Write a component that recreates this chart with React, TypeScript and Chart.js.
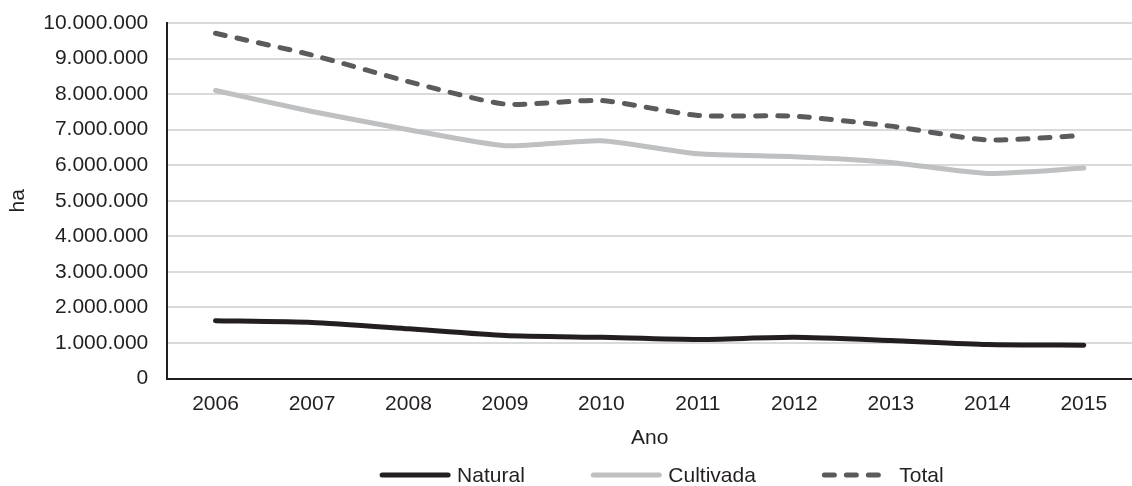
import React, { useEffect, useRef } from "react";
import { Chart, registerables } from "chart.js";

Chart.register(...registerables);

// Área (ha) por ano
const anos = ["2006", "2007", "2008", "2009", "2010", "2011", "2012", "2013", "2014", "2015"];
const natural = [1630000, 1580000, 1400000, 1210000, 1160000, 1100000, 1160000, 1070000, 960000, 940000];
const cultivada = [8100000, 7510000, 7000000, 6550000, 6690000, 6320000, 6240000, 6080000, 5770000, 5920000];
const total = [9710000, 9100000, 8350000, 7720000, 7820000, 7400000, 7380000, 7100000, 6710000, 6840000];

const FONT = '"Liberation Sans", Arial, sans-serif';
const TEXT = "#231f20";

function formatPt(v: number): string {
  return String(Math.round(v)).replace(/\B(?=(\d{3})+(?!\d))/g, ".");
}

// Legend drawn below the x-axis title, centred under the plot area
const bottomLegend = {
  id: "bottomLegend",
  afterDraw(chart: any) {
    const { ctx, chartArea } = chart;
    const lineLen = 66;
    const cap = 2.5;
    const textGap = 9;
    const itemGap = 66;
    const y = 475;
    ctx.save();
    ctx.font = `21px ${FONT}`;
    const items = chart.data.datasets.map((ds: any) => ({
      ds,
      w: ctx.measureText(ds.label).width,
    }));
    let groupW = 0;
    items.forEach((it: any, i: number) => {
      groupW += cap + lineLen + textGap + it.w;
      if (i < items.length - 1) groupW += itemGap;
    });
    const center = (chartArea.left + chartArea.right) / 2 + 12;
    let x = center - groupW / 2;
    items.forEach((it: any) => {
      const ds = it.ds;
      const x0 = x + cap;
      ctx.beginPath();
      ctx.lineWidth = ds.borderWidth;
      ctx.strokeStyle = ds.borderColor;
      ctx.lineCap = "round";
      ctx.setLineDash(ds.borderDash || []);
      ctx.moveTo(x0, y);
      ctx.lineTo(x0 + (ds.borderDash ? lineLen - 8 : lineLen), y);
      ctx.stroke();
      ctx.setLineDash([]);
      ctx.fillStyle = TEXT;
      ctx.textBaseline = "middle";
      ctx.textAlign = "left";
      ctx.fillText(ds.label, x0 + lineLen + textGap, y + 1);
      x = x0 + lineLen + textGap + it.w + itemGap;
    });
    ctx.restore();
  },
};

export default function App() {
  const canvasRef = useRef<HTMLCanvasElement | null>(null);

  useEffect(() => {
    const canvas = canvasRef.current;
    if (!canvas) return;
    const chart = new Chart(canvas, {
      type: "line",
      data: {
        labels: anos,
        datasets: [
          {
            label: "Natural",
            data: natural,
            borderColor: "#231f20",
            backgroundColor: "#231f20",
            borderWidth: 5,
            pointRadius: 0,
            tension: 0.2,
            borderCapStyle: "round",
            borderJoinStyle: "round",
          },
          {
            label: "Cultivada",
            data: cultivada,
            borderColor: "#bfc0c2",
            backgroundColor: "#bfc0c2",
            borderWidth: 5,
            pointRadius: 0,
            tension: 0.2,
            borderCapStyle: "round",
            borderJoinStyle: "round",
          },
          {
            label: "Total",
            data: total,
            borderColor: "#5b5b5d",
            backgroundColor: "#5b5b5d",
            borderWidth: 5,
            borderDash: [10, 12],
            pointRadius: 0,
            tension: 0.2,
            borderCapStyle: "round",
            borderJoinStyle: "round",
          },
        ],
      },
      options: {
        responsive: false,
        animation: false,
        layout: { padding: { top: 23, right: 0, left: 0, bottom: 35 } },
        plugins: {
          legend: { display: false },
          tooltip: { enabled: false },
        },
        scales: {
          x: {
            offset: true,
            grid: { display: false, drawTicks: false },
            border: { display: true, color: "#231f20", width: 2 },
            ticks: { color: TEXT, font: { family: FONT, size: 21 }, padding: 13 },
            title: {
              display: true,
              text: "Ano",
              color: TEXT,
              font: { family: FONT, size: 21 },
              padding: { top: -4, bottom: 0 },
            },
          },
          y: {
            min: 0,
            max: 10000000,
            grid: { color: "#dadadc", lineWidth: 2, drawTicks: false },
            border: { display: true, color: "#231f20", width: 2 },
            ticks: {
              stepSize: 1000000,
              color: TEXT,
              font: { family: FONT, size: 21, lineHeight: 0.35 },
              padding: 19,
              callback: (v: any) => formatPt(Number(v)),
            },
            title: {
              display: true,
              text: "ha",
              color: TEXT,
              font: { family: FONT, size: 21 },
              padding: { top: 6, bottom: -7 },
            },
          },
        },
      },
      plugins: [bottomLegend],
    });
    return () => chart.destroy();
  }, []);

  return (
    <div style={{ position: "absolute", left: 0, top: 0, width: 1132, height: 486, background: "#fff" }}>
      <canvas ref={canvasRef} width={1132} height={486} style={{ display: "block" }} />
    </div>
  );
}
